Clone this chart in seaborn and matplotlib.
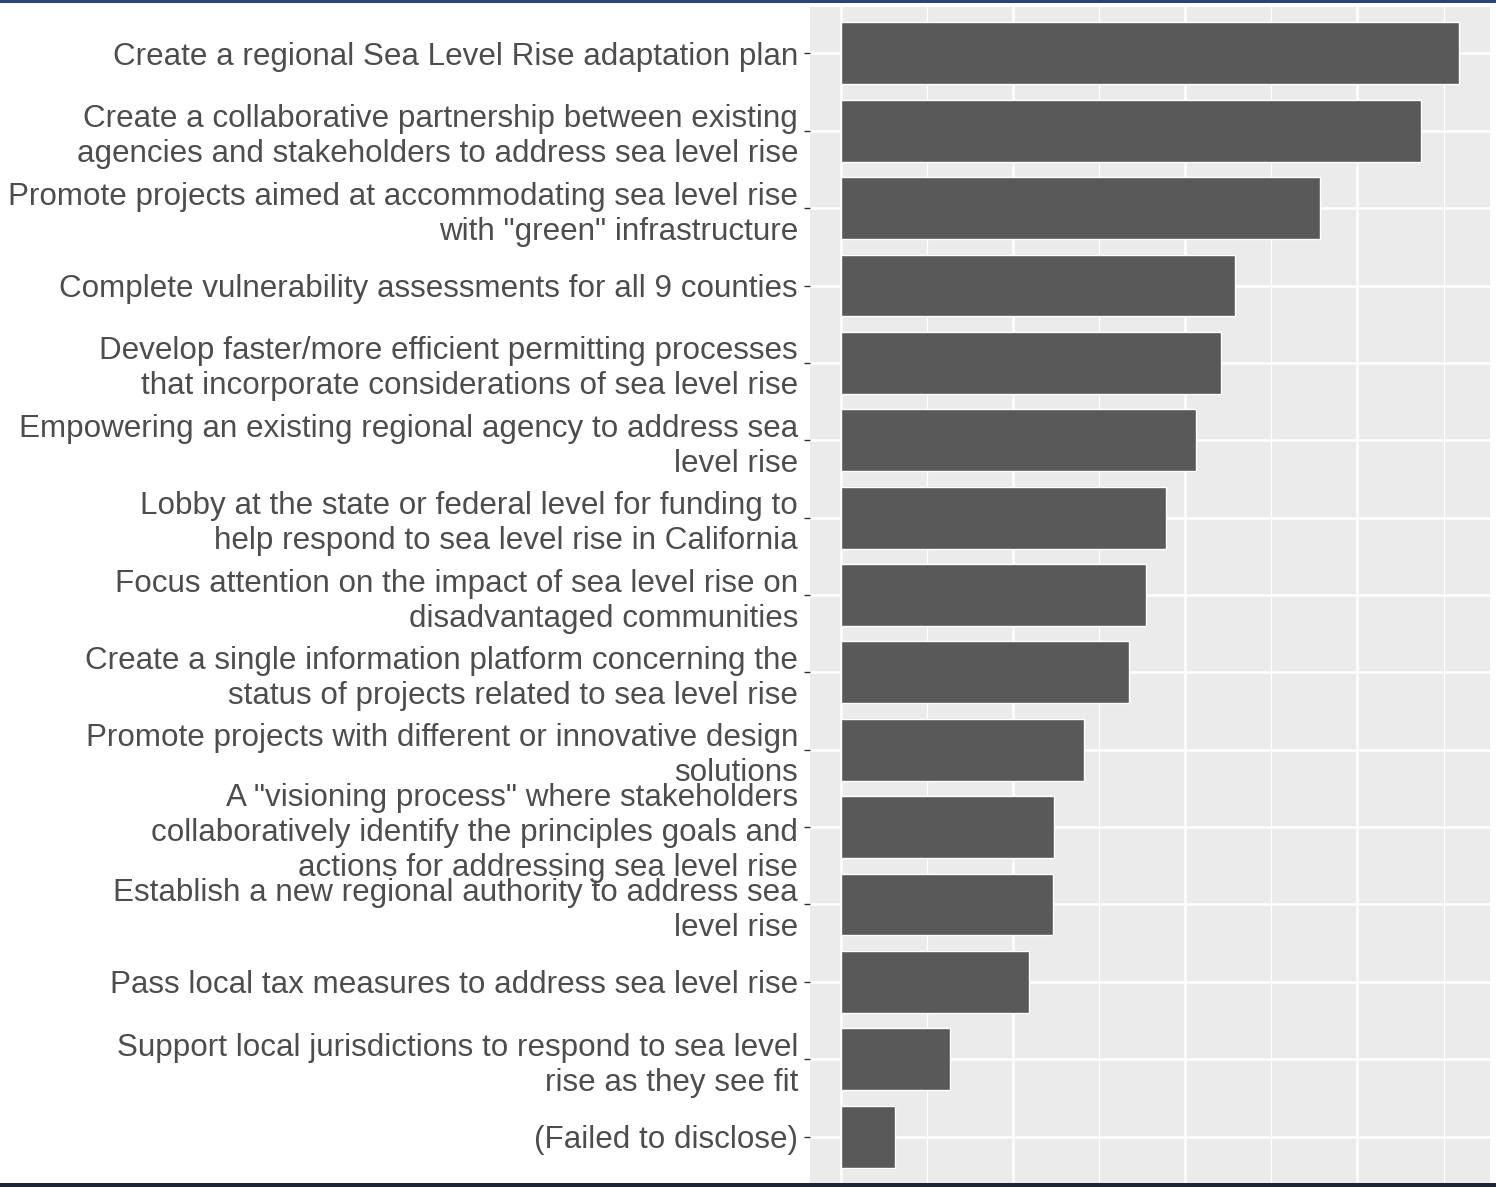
import matplotlib
matplotlib.use("Agg")
import matplotlib.pyplot as plt
from matplotlib.patches import Rectangle
from matplotlib.ticker import MultipleLocator, NullFormatter
import seaborn as sns
import pandas as pd

labels = [
    "Create a regional Sea Level Rise adaptation plan",
    "Create a collaborative partnership between existing\nagencies and stakeholders to address sea level rise",
    "Promote projects aimed at accommodating sea level rise\nwith \"green\" infrastructure",
    "Complete vulnerability assessments for all 9 counties",
    "Develop faster/more efficient permitting processes\nthat incorporate considerations of sea level rise",
    "Empowering an existing regional agency to address sea\nlevel rise",
    "Lobby at the state or federal level for funding to\nhelp respond to sea level rise in California",
    "Focus attention on the impact of sea level rise on\ndisadvantaged communities",
    "Create a single information platform concerning the\nstatus of projects related to sea level rise",
    "Promote projects with different or innovative design\nsolutions",
    "A \"visioning process\" where stakeholders\ncollaboratively identify the principles goals and\nactions for addressing sea level rise",
    "Establish a new regional authority to address sea\nlevel rise",
    "Pass local tax measures to address sea level rise",
    "Support local jurisdictions to respond to sea level\nrise as they see fit",
    "(Failed to disclose)",
]
values = [71.8, 67.4, 55.6, 45.8, 44.1, 41.2, 37.8, 35.4, 33.5, 28.2, 24.8, 24.6, 21.9, 12.7, 6.3]

df = pd.DataFrame({"option": labels, "value": values})

sns.set_theme(style="darkgrid")
plt.rcParams["font.family"] = ["Liberation Sans", "DejaVu Sans"]

W, H = 1496, 1187
fig = plt.figure(figsize=(W / 100, H / 100), dpi=100)
fig.patch.set_facecolor("white")

left_px, right_px, top_px, bottom_px = 810, 1490, 7, 1183
ax = fig.add_axes([left_px / W, (H - bottom_px) / H, (right_px - left_px) / W, (bottom_px - top_px) / H])

sns.barplot(data=df, x="value", y="option", orient="h", color="#595959",
            saturation=1, width=0.8, ax=ax, order=labels)

vmax = max(values)
ax.set_xlim(-0.05 * vmax, 1.05 * vmax)
ax.set_ylim(len(labels) - 1 + 0.6, -0.6)

ax.set_facecolor("#EBEBEB")
for s in ax.spines.values():
    s.set_visible(False)

ax.xaxis.set_major_locator(MultipleLocator(20))
ax.xaxis.set_minor_locator(MultipleLocator(10))
ax.xaxis.set_major_formatter(NullFormatter())
ax.tick_params(axis="x", which="both", length=0)
ax.grid(True, which="major", axis="both", color="white", linewidth=1.8)
ax.grid(True, which="minor", axis="x", color="white", linewidth=0.9)
ax.set_axisbelow(True)

ax.set_xlabel("")
ax.set_ylabel("")
ax.tick_params(axis="y", which="major", length=4.3, width=1.0, color="#333333",
               pad=4.3, labelsize=22.6, labelcolor="#4D4D4D", left=True)
for t in ax.get_yticklabels():
    t.set_linespacing(1.22)
    t.set_horizontalalignment("right")

# screenshot edge bands
fig.patches.append(Rectangle((0, (H - 3) / H), 1, 3 / H, transform=fig.transFigure,
                             facecolor="#2e4470", edgecolor="none", zorder=10))
fig.patches.append(Rectangle((0, 0), 1, 4 / H, transform=fig.transFigure,
                             facecolor="#1d2638", edgecolor="none", zorder=10))

fig.savefig("out.png", dpi=100)
